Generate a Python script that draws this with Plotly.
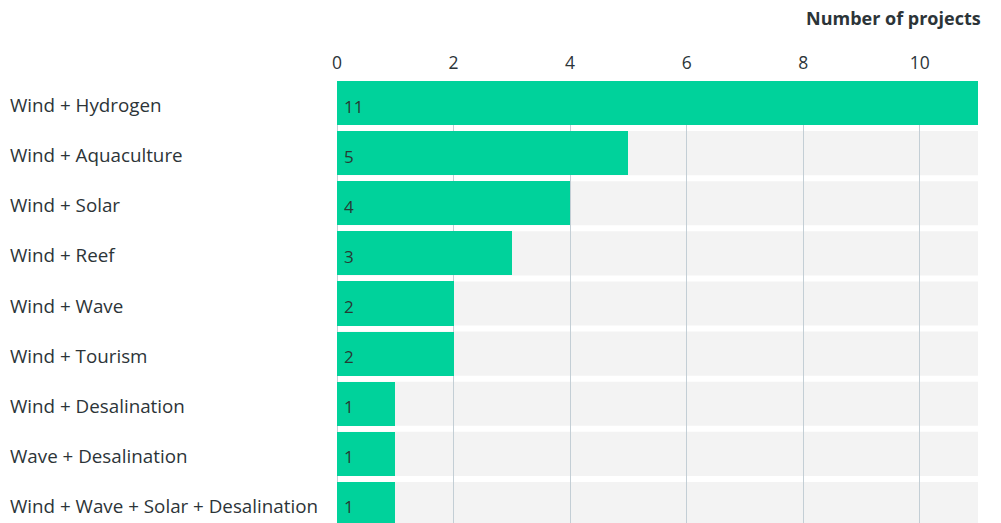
import plotly.graph_objects as go

categories = [
    "Wind + Hydrogen",
    "Wind + Aquaculture",
    "Wind + Solar",
    "Wind + Reef",
    "Wind + Wave",
    "Wind + Tourism",
    "Wind + Desalination",
    "Wave + Desalination",
    "Wind + Wave + Solar + Desalination",
]
projects = [11, 5, 4, 3, 2, 2, 1, 1, 1]
x_ticks = [0, 2, 4, 6, 8, 10]
x_max = 11

GREEN = "#00d29b"
BG = "#f3f3f3"
GRID = "#c3ced5"
TEXT = "#2c3438"
FONT = "Open Sans"
BAR_W = 0.88

fig = go.Figure()
fig.add_trace(go.Bar(
    y=list(range(len(categories))),
    x=projects,
    orientation="h",
    width=BAR_W,
    marker=dict(color=GREEN, line=dict(width=0)),
    hoverinfo="skip",
))

shapes = []
annotations = []
for i, (cat, v) in enumerate(zip(categories, projects)):
    shapes.append(dict(
        type="rect", xref="x", yref="y", layer="below",
        x0=0, x1=x_max, y0=i - BAR_W / 2, y1=i + BAR_W / 2,
        fillcolor=BG, line=dict(width=0),
    ))
    annotations.append(dict(
        xref="paper", yref="y", x=0, y=i, xanchor="left", yanchor="middle",
        xshift=-329, yshift=-2, text=cat, showarrow=False,
        font=dict(family=FONT, size=18.8, color=TEXT),
    ))
    annotations.append(dict(
        xref="x", yref="y", x=0, y=i, xanchor="left", yanchor="middle",
        xshift=5, yshift=-3, text=str(v), showarrow=False,
        font=dict(family=FONT, size=17, color="#263a34"),
    ))

annotations.append(dict(
    xref="paper", yref="paper", x=1, y=1, xanchor="right", yanchor="middle",
    xshift=5, yshift=63, text="<b>Number of projects</b>", showarrow=False,
    font=dict(family=FONT, size=18, color=TEXT),
))

fig.update_layout(
    width=1001, height=523,
    margin=dict(l=337, r=23, t=81, b=0, pad=0),
    paper_bgcolor="white", plot_bgcolor="white",
    showlegend=False,
    shapes=shapes,
    annotations=annotations,
    bargap=0,
    xaxis=dict(
        side="top", range=[0, x_max], tickvals=x_ticks,
        showgrid=True, gridcolor=GRID, gridwidth=1,
        zeroline=True, zerolinecolor=GRID, zerolinewidth=1,
        showline=False, ticks="",
        tickfont=dict(family=FONT, size=17.5, color=TEXT),
        ticklabelstandoff=8,
    ),
    yaxis=dict(
        range=[8.38, -BAR_W / 2], showticklabels=False,
        showgrid=False, zeroline=False, showline=False, ticks="",
    ),
)

fig.write_html("out.html")
